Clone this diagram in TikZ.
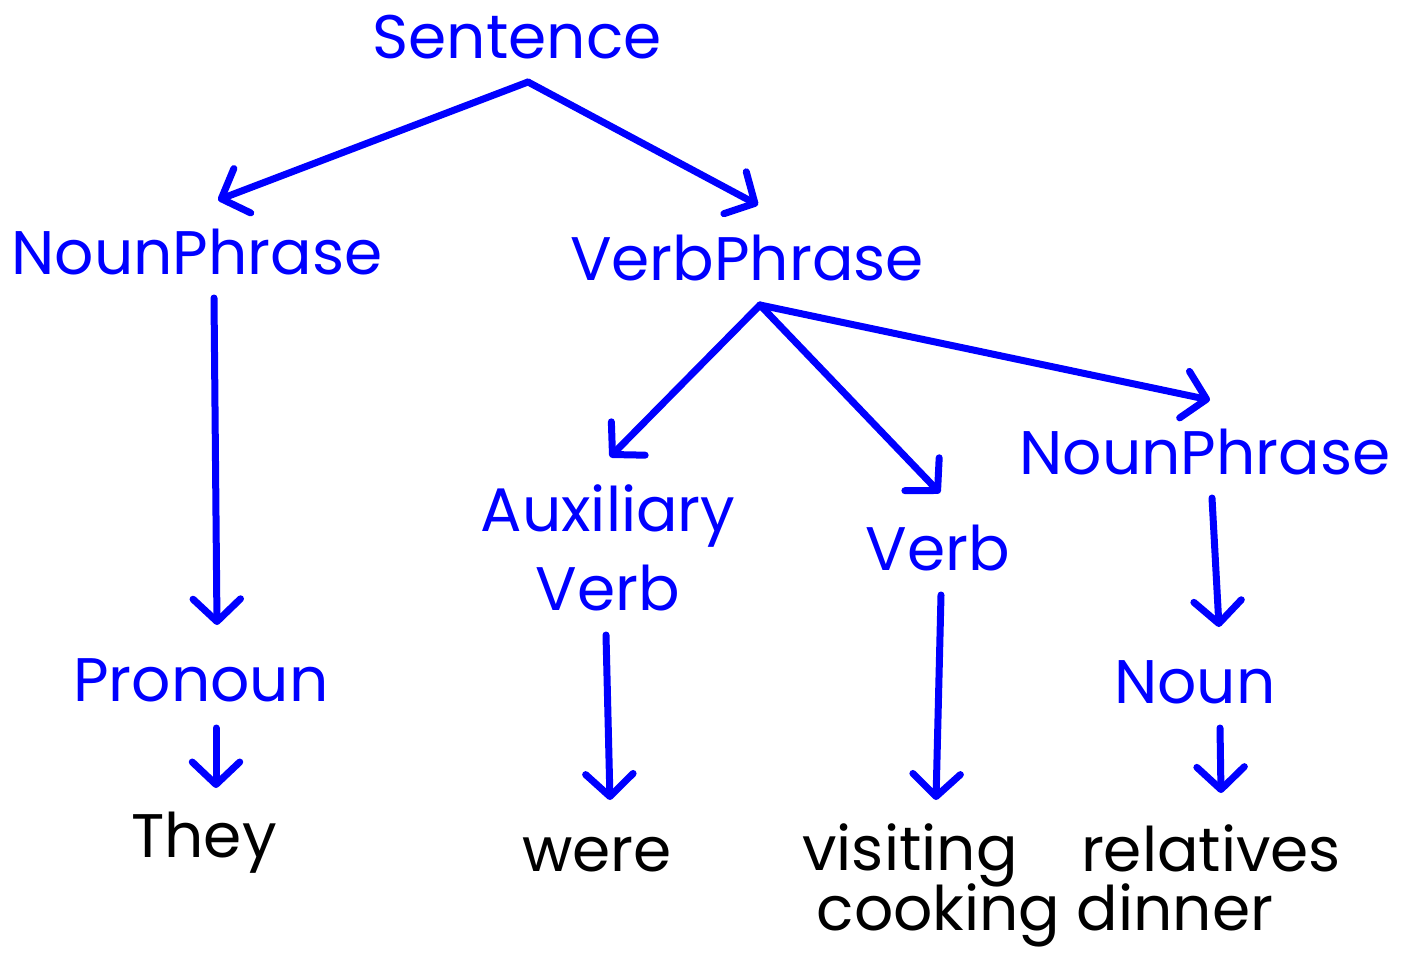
\documentclass[tikz,border=0pt]{standalone}
\usepackage{fontspec}
\setmainfont{Poppins}
\usetikzlibrary{arrows.meta}
\definecolor{tblue}{RGB}{0,0,255}
\tikzset{
  lbl/.style={text=tblue, font=\fontsize{35}{40}\selectfont, inner sep=0pt, anchor=center},
  word/.style={text=black, font=\fontsize{35}{40}\selectfont, inner sep=0pt, anchor=center},
  arr/.style={draw=tblue, line width=0.14cm, line cap=round,
    -{Straight Barb[length=0.45cm, width=0.95cm, round]}},
}
\begin{document}
\begin{tikzpicture}[x=0.02cm, y=-0.02cm]
\useasboundingbox (0,0) rectangle (1405,953);
\node[lbl] (s) at (517,37) {Sentence};
\node[lbl] (np1) at (197,252) {NounPhrase};
\node[lbl] (vp) at (747,258) {VerbPhrase};
\node[lbl] (pro) at (201,680) {Pronoun};
\node[word] (they) at (204,843) {They};
\node[lbl, align=center, font=\fontsize{35}{45}\selectfont] (aux) at (608,548) {Auxiliary\\Verb};
\node[lbl] (verb) at (938,548) {Verb};
\node[lbl] (np2) at (1205,452) {NounPhrase};
\node[lbl] (noun) at (1195,682) {Noun};
\node[word] (were) at (597,855) {were};
\node[word] (vis) at (910,855) {visiting};
\node[word] (cook) at (1045,915) {cooking dinner};
\node[word] (rel) at (1211,848) {relatives};
\coordinate (s0) at (528,82);
\coordinate (vp0) at (760,305);
\draw[arr] (s0) -- (218,200) coordinate (np1t);
\draw[arr] (s0) -- (758,205) coordinate (vpt);
\draw[arr] (214,298) coordinate (np1b) -- (217,625) coordinate (prot);
\draw[arr] (vp0) -- (610,457) coordinate (auxt);
\draw[arr] (vp0) -- (940,493) coordinate (verbt);
\draw[arr] (vp0) -- (1210,400) coordinate (np2t);
\draw[arr] (216,728) coordinate (prob) -- (216,788) coordinate (theyt);
\draw[arr] (606,635) coordinate (auxb) -- (610,800) coordinate (weret);
\draw[arr] (941,595) coordinate (verbb) -- (936,800) coordinate (vist);
\draw[arr] (1212,498) coordinate (np2b) -- (1219,627) coordinate (nount);
\draw[arr] (1220,728) coordinate (nounb) -- (1221,793) coordinate (relt);
\end{tikzpicture}
\end{document}
